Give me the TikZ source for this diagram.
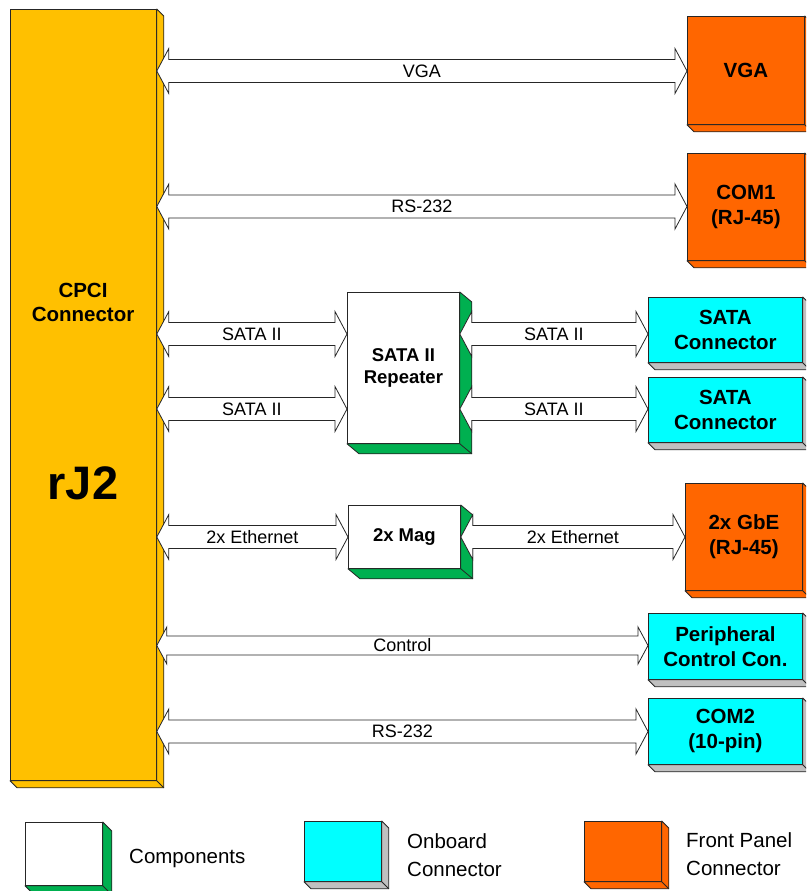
\documentclass[tikz,border=0pt]{standalone}
\usepackage{fontspec}
\setmainfont{Liberation Sans}
\usetikzlibrary{calc}
\definecolor{cpciY}{HTML}{FFC000}
\definecolor{frontO}{HTML}{FF6600}
\definecolor{onbC}{HTML}{00FFFF}
\definecolor{compG}{HTML}{00B050}
\definecolor{sideGray}{HTML}{C0C0C0}
\definecolor{edge}{HTML}{262626}
\tikzset{
  face/.style={draw=edge, line width=0.8pt, inner sep=0pt, anchor=north west, align=center},
  boxlbl/.style={font=\fontsize{20.5}{25}\selectfont\bfseries},
  complbl/.style={font=\fontsize{18.5}{21.5}\selectfont\bfseries},
  lbl/.style={font=\fontsize{18}{20}\selectfont, inner sep=0pt},
  legtxt/.style={font=\fontsize{20.5}{28}\selectfont, inner sep=0pt, anchor=west, align=left},
  arrowdims/.code args={#1/#2/#3}{\def\arL{#1}\def\arH{#2}\def\arh{#3}},
  dblarrow/.style={draw=edge, fill=white, line width=0.8pt, line join=miter, to path={
    let \p1=(\tikztostart), \p2=(\tikztotarget) in
    (\x1,\y1) -- (\x1+\arL,\y1+\arH) -- (\x1+\arL,\y1+\arh) -- (\x2-\arL,\y1+\arh)
    -- (\x2-\arL,\y1+\arH) -- (\x2,\y1) -- (\x2-\arL,\y1-\arH) -- (\x2-\arL,\y1-\arh)
    -- (\x1+\arL,\y1-\arh) -- (\x1+\arL,\y1-\arH) -- cycle}},
  bigarrow/.style={dblarrow, arrowdims={12pt/22.5pt/11.5pt}},
  smallarrow/.style={dblarrow, arrowdims={10pt/18.5pt/9.5pt}},
}
\newcommand\drawdepth[4]{%
  \filldraw[draw=edge, line width=0.8pt, line join=round, #4] (#1.north east) -- ++(#2,#3)
    -- ($(#1.south east)+(#2,#3)$) -- ($(#1.south west)+(#2,#3)$) -- (#1.south west)
    -- (#1.south east) -- cycle;
  \draw[draw=edge, line width=0.8pt] (#1.south east) -- ++(#2,#3);
}
\begin{document}
\begin{tikzpicture}[x=1pt, y=-1pt]
\useasboundingbox (0,0) rectangle (806,891);
\clip (0,0) rectangle (806,891);

% main connector
\node[face, fill=cpciY, minimum width=146pt, minimum height=771pt] (cpci) at (10,9) {};
\drawdepth{cpci}{7}{7}{fill=cpciY}
\node[font=\fontsize{20.5}{24}\selectfont\bfseries, align=center] (cpcitext) at (83,302) {CPCI\\Connector};
\node[font=\fontsize{47}{50}\selectfont\bfseries] (rjtext) at (83,483) {rJ2};

% front panel connectors
\node[face, fill=frontO, minimum width=117pt, minimum height=108pt, boxlbl] (vga) at (687,16) {VGA};
\drawdepth{vga}{7}{7}{fill=frontO}
\node[face, fill=frontO, minimum width=117pt, minimum height=107pt, boxlbl] (com1) at (687,153) {COM1\\(RJ-45)};
\drawdepth{com1}{7}{7}{fill=frontO}
\node[face, fill=frontO, minimum width=117pt, minimum height=107pt, boxlbl] (gbe) at (685,483) {2x GbE\\(RJ-45)};
\drawdepth{gbe}{7}{7}{fill=frontO}

% onboard connectors
\node[face, fill=onbC, minimum width=154pt, minimum height=65pt, boxlbl] (sata1) at (648,297) {SATA\\Connector};
\drawdepth{sata1}{7}{7}{fill=sideGray}
\node[face, fill=onbC, minimum width=154pt, minimum height=65pt, boxlbl] (sata2) at (648,377) {SATA\\Connector};
\drawdepth{sata2}{7}{7}{fill=sideGray}
\node[face, fill=onbC, minimum width=154pt, minimum height=66pt, boxlbl] (periph) at (648,613) {Peripheral\\Control Con.};
\drawdepth{periph}{7}{7}{fill=sideGray}
\node[face, fill=onbC, minimum width=154pt, minimum height=66pt, boxlbl] (com2) at (648,698) {COM2\\(10-pin)};
\drawdepth{com2}{7}{7}{fill=sideGray}

% components
\node[face, fill=white, minimum width=112pt, minimum height=151pt, complbl] (rep) at (347,292) {SATA II\\Repeater};
\drawdepth{rep}{12}{10}{fill=compG}
\node[face, fill=white, minimum width=112pt, minimum height=63pt, complbl] (mag) at (348,505) {2x Mag};
\drawdepth{mag}{12}{10}{fill=compG}

% arrow levels
\coordinate (yVGA) at (0,71);
\coordinate (yCOM1) at (0,206.5);
\coordinate (yS1) at (0,334);
\coordinate (yS2) at (0,409);
\coordinate (yEth) at (0,537);
\coordinate (yCtl) at (0,645.5);
\coordinate (yCOM2) at (0,731.5);

\draw[bigarrow] (cpci.east |- yVGA) to (vga.west |- yVGA);
\path (cpci.east |- yVGA) -- node[lbl] (tvga) {VGA} (vga.west |- yVGA);
\draw[bigarrow] (cpci.east |- yCOM1) to (com1.west |- yCOM1);
\path (cpci.east |- yCOM1) -- node[lbl] (tcom1) {RS-232} (com1.west |- yCOM1);

\draw[bigarrow] (cpci.east |- yS1) to (rep.west |- yS1);
\path (cpci.east |- yS1) -- node[lbl] (tsl1) {SATA II} (rep.west |- yS1);
\draw[bigarrow] (cpci.east |- yS2) to (rep.west |- yS2);
\path (cpci.east |- yS2) -- node[lbl] (tsl2) {SATA II} (rep.west |- yS2);
\draw[bigarrow] (rep.east |- yS1) to (sata1.west |- yS1);
\path (rep.east |- yS1) -- node[lbl] (tsr1) {SATA II} (sata1.west |- yS1);
\draw[bigarrow] (rep.east |- yS2) to (sata2.west |- yS2);
\path (rep.east |- yS2) -- node[lbl] (tsr2) {SATA II} (sata2.west |- yS2);

\draw[bigarrow] (cpci.east |- yEth) to (mag.west |- yEth);
\path (cpci.east |- yEth) -- node[lbl] (tel) {2x Ethernet} (mag.west |- yEth);
\draw[bigarrow] (mag.east |- yEth) to (gbe.west |- yEth);
\path (mag.east |- yEth) -- node[lbl] (ter) {2x Ethernet} (gbe.west |- yEth);

\draw[smallarrow] (cpci.east |- yCtl) to (periph.west |- yCtl);
\path (cpci.east |- yCtl) -- node[lbl] (tctl) {Control} (periph.west |- yCtl);
\draw[bigarrow] (cpci.east |- yCOM2) to (com2.west |- yCOM2);
\path (cpci.east |- yCOM2) -- node[lbl] (tcom2) {RS-232} (com2.west |- yCOM2);

% legend
\node[face, fill=white, minimum width=77pt, minimum height=63pt] (legc) at (25,822) {};
\drawdepth{legc}{9}{9}{fill=compG}
\node[legtxt] (legctxt) at (129,858) {Components};
\node[face, fill=onbC, minimum width=77pt, minimum height=60pt] (lego) at (304,821) {};
\drawdepth{lego}{7}{7}{fill=sideGray}
\node[legtxt] (legotxt) at (407,855) {Onboard\\Connector};
\node[face, fill=frontO, minimum width=77pt, minimum height=60pt] (legf) at (584,821) {};
\drawdepth{legf}{7}{7}{fill=frontO}
\node[legtxt] (legftxt) at (686,854) {Front Panel\\Connector};
\end{tikzpicture}
\end{document}
